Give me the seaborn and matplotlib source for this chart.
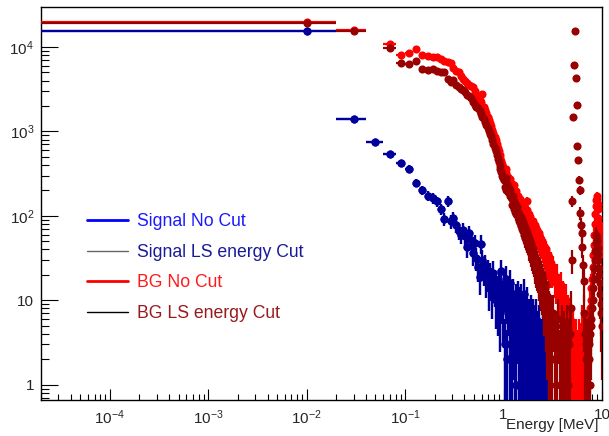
import numpy as np
import pandas as pd
import matplotlib
matplotlib.use("Agg")
import matplotlib.pyplot as plt
from matplotlib.lines import Line2D
from matplotlib.ticker import FixedLocator, LogLocator, NullFormatter
import seaborn as sns

# bin centres of the 0.02 MeV histograms
e_low = np.linspace(0.01, 0.99, 50)     # 0 - 1 MeV, every bin
e_mid = np.linspace(1.01, 2.99, 100)    # 1 - 3 MeV, every bin
e_high = np.linspace(3.01, 9.91, 70)    # 3 - 10 MeV, every 5th bin

# Signal (counts per bin)
sig_low = [15300, 1400, 740, 545, 420, 362, 246, 200, 174, 162,
           148, 120, 92, 150, 86, 95, 78, 66, 60, 68,
           57, 43, 62, 52, 36, 48, 32, 25, 19, 47,
           30, 23, 26, 18, 22, 14, 20, 17, 12, 21,
           15, 10, 13, 9, 16, 12, 7, 22, 11, 8]
sig_mid = [14, 3, 11, 18, 2, 9, 12, 3, 16, 6,
           9, 2, 12, 5, 8, 3, 10, 1, 7, 11,
           6, 2, 9, 4, 7, 10, 2, 5, 8, 3,
           12, 2, 6, 4, 1, 7, 9, 3, 5, 2,
           4, 6, 1, 5, 3, 7, 2, 4, 6, 1,
           3, 5, 1, 2, 4, 1, 3, 6, 2, 1,
           2, 4, 1, 3, 1, 5, 2, 1, 3, 1,
           2, 1, 3, 1, 2, 4, 1, 2, 1, 1,
           1, 2, 1, 0, 3, 1, 2, 1, 1, 2,
           1, 0, 1, 2, 1, 0, 0, 0, 0, 0]

# Background, no cut
bg_low = [19900, 15800, 0, 10900, 7940, 8460, 9510, 8070, 7800, 7680,
          7570, 7200, 6840, 6550, 6400, 5600, 5200, 5080, 4500, 4200,
          3970, 3750, 3540, 3450, 3380, 3000, 2680, 2500, 2350, 2200,
          2760, 1950, 1800, 1650, 1500, 1380, 1270, 1150, 1050, 950,
          860, 780, 700, 640, 580, 530, 480, 450, 410, 380]
bg_mid = [345, 300, 318, 360, 275, 290, 252, 270, 238, 226,
          240, 205, 212, 232, 180, 190, 170, 198, 158, 168,
          172, 140, 152, 160, 128, 148, 122, 130, 138, 112,
          130, 108, 116, 124, 98, 104, 118, 148, 92, 100,
          104, 84, 90, 96, 78, 88, 74, 82, 86, 68,
          82, 66, 72, 78, 60, 70, 64, 56, 68, 54,
          66, 52, 58, 62, 48, 55, 50, 45, 56, 42,
          52, 42, 47, 50, 38, 45, 40, 35, 44, 36,
          42, 33, 37, 40, 30, 36, 31, 27, 35, 29,
          34, 26, 30, 33, 24, 29, 25, 22, 28, 23]
bg_high = [28, 22, 25, 18, 16, 19, 14, 12, 15, 10,
           11, 9, 8, 10, 6, 7, 5, 6, 4, 5,
           3, 4, 3, 2, 3, 2, 1, 2, 3, 1,
           2, 1, 2, 5, 1, 2, 1, 3, 1, 2,
           4, 2, 3, 5, 4, 6, 8, 10, 14, 18,
           25, 34, 45, 60, 80, 105, 130, 155, 170, 160,
           140, 120, 95, 80, 65, 70, 55, 48, 40, 35]

# Background, LS energy cut
bgc_low = [19300, 15300, 0, 9800, 6380, 6260, 6840, 5490, 5330, 5420,
           5200, 5080, 4990, 4170, 3830, 4060, 3500, 3380, 3200, 3100,
           2900, 2710, 2600, 2490, 2250, 2060, 1960, 1890, 1750, 1620,
           1500, 1400, 1300, 1180, 1100, 1000, 940, 870, 780, 700,
           640, 580, 520, 470, 430, 390, 360, 330, 300, 280]
bgc_mid = [265, 220, 280, 205, 240, 190, 215, 172, 200, 165,
           158, 135, 170, 122, 148, 112, 136, 105, 126, 98,
           112, 88, 104, 82, 96, 76, 90, 70, 84, 66,
           78, 60, 72, 55, 68, 52, 64, 48, 58, 46,
           54, 40, 50, 38, 46, 35, 43, 32, 40, 30,
           38, 28, 35, 26, 33, 24, 31, 22, 29, 21,
           28, 20, 26, 18, 24, 17, 22, 15, 20, 14,
           21, 14, 19, 13, 17, 12, 16, 10, 15, 9,
           15, 10, 14, 8, 12, 7, 11, 6, 10, 5,
           11, 5, 9, 4, 8, 3, 7, 2, 6, 3]
bgc_high = [6, 2, 7, 4, 1, 3, 6, 2, 3, 5,
            1, 4, 2, 3, 5, 1, 3, 4, 8, 30,
            150, 1480, 6100, 15300, 4300, 2050, 670, 460, 265, 200,
            108, 78, 62, 43, 26, 17, 7, 4, 2, 3,
            2, 3, 1, 2, 3, 4, 1, 5, 6, 8,
            10, 14, 18, 24, 30, 38, 48, 60, 55, 50,
            42, 35, 30, 24, 20, 16, 12, 9, 7, 5]

labels = ["Signal No Cut", "Signal LS energy Cut", "BG No Cut", "BG LS energy Cut"]
colors = ["#0000ff", "#000099", "#ff0000", "#990000"]
text_colors = ["#1a1aff", "#1a1a99", "#ff1a1a", "#991a1a"]
handle_colors = ["#0000ff", "#666666", "#ff0000", "#000000"]
weights = [3, 3, 3, 3]  # mean event weight, sets the error bars

sig_E = np.concatenate([e_low, e_mid])
sig_N = np.array(sig_low + sig_mid, dtype=float)
bg_E = np.concatenate([e_low, e_mid, e_high])
bg_N = np.array(bg_low + bg_mid + bg_high, dtype=float)
bgc_N = np.array(bgc_low + bgc_mid + bgc_high, dtype=float)

data = [(sig_E, sig_N), (sig_E, sig_N), (bg_E, bg_N), (bg_E, bgc_N)]

sns.set_style("white")
plt.rcParams["font.family"] = ["Liberation Sans", "DejaVu Sans"]
plt.rcParams["mathtext.fontset"] = "custom"
plt.rcParams["mathtext.rm"] = "Liberation Sans"
plt.rcParams["mathtext.it"] = "Liberation Sans:italic"

fig = plt.figure(figsize=(6.09, 4.36), dpi=100)
ax = fig.add_axes([41 / 609, 36 / 436, 561 / 609, 393 / 436])
ax.set_xscale("log")
ax.set_yscale("log")

for i, (E, N) in enumerate(data):
    df = pd.DataFrame({"E": E, "N": N})
    df = df[df.N > 0]
    yerr = np.sqrt(weights[i] * df.N)
    ax.errorbar(df.E, df.N, xerr=0.01, yerr=yerr, fmt="none",
                ecolor=colors[i], elinewidth=1.6, capsize=0, zorder=2 + i)
    sns.scatterplot(data=df, x="E", y="N", ax=ax, color=colors[i], s=34,
                    linewidth=0, legend=False, zorder=2 + i)

ax.set_xlim(2e-5, 10)
ax.set_ylim(0.66, 2.97e4)

ax.xaxis.set_major_locator(FixedLocator([1e-4, 1e-3, 1e-2, 1e-1, 1, 10]))
ax.set_xticklabels(["$10^{-4}$", "$10^{-3}$", "$10^{-2}$", "$10^{-1}$", "1", "10"])
ax.yaxis.set_major_locator(FixedLocator([1, 10, 100, 1e3, 1e4]))
ax.set_yticklabels(["1", "10", "$10^{2}$", "$10^{3}$", "$10^{4}$"])
ax.xaxis.set_minor_locator(LogLocator(base=10, subs=np.arange(2, 10), numticks=20))
ax.yaxis.set_minor_locator(LogLocator(base=10, subs=np.arange(2, 10), numticks=20))
ax.xaxis.set_minor_formatter(NullFormatter())
ax.yaxis.set_minor_formatter(NullFormatter())

ax.tick_params(axis="both", which="both", direction="in", top=False, right=False,
               bottom=True, left=True, labelsize=11, color="black", width=0.8)
ax.tick_params(axis="y", which="major", length=12, pad=5)
ax.tick_params(axis="y", which="minor", length=6)
ax.tick_params(axis="x", which="major", length=8, pad=6)
ax.tick_params(axis="x", which="minor", length=4)
ax.set_xlabel("")
ax.set_ylabel("")
for sp in ax.spines.values():
    sp.set_color("black")
    sp.set_linewidth(1.0)

fig.text(598 / 609, 1 - 425 / 436, "Energy [MeV]", ha="right", va="center", fontsize=11)

handles = [Line2D([], [], color=handle_colors[i], lw=2 if i % 2 == 0 else 1)
           for i in range(4)]
leg = ax.legend(handles, labels, loc="upper left", bbox_to_anchor=(0.082, 0.475),
                frameon=False, fontsize=12.7, handlelength=2.3, handletextpad=0.55,
                labelspacing=0.77, borderpad=0, borderaxespad=0)
for t, c in zip(leg.get_texts(), text_colors):
    t.set_color(c)

fig.savefig("out.png", dpi=100)
